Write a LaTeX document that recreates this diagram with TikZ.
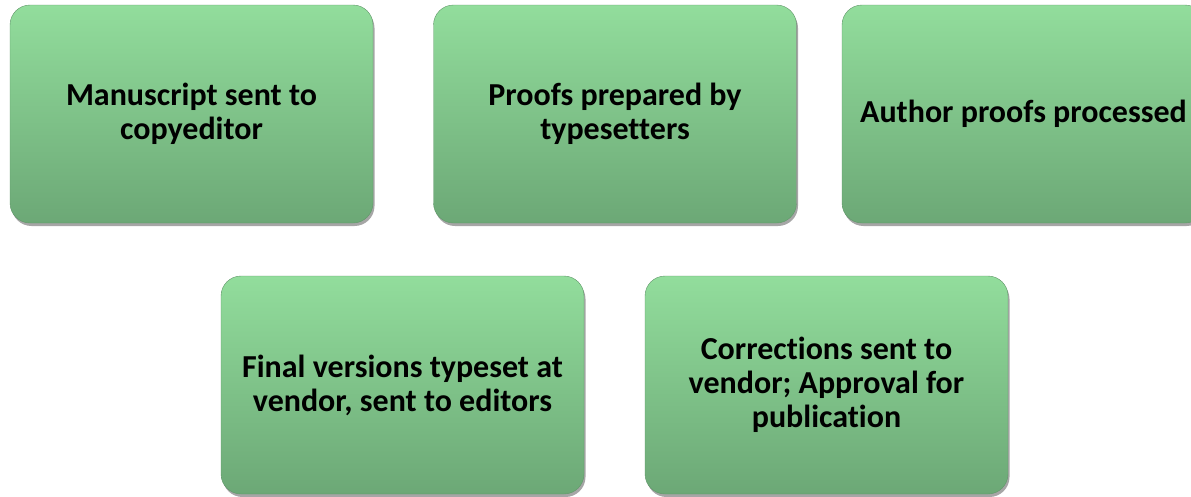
\documentclass[tikz,border=0pt]{standalone}
\usepackage{fontspec}
\setmainfont{Carlito}[Ligatures=NoCommon]
\usepackage{tikz}
\usetikzlibrary{shadows}

\definecolor{stagetop}{RGB}{146,221,156}
\definecolor{stagebottom}{RGB}{108,168,118}

\tikzset{
    stagebox/.style={rounded corners=20pt, minimum width=363pt, minimum height=218pt,
        top color=stagetop, bottom color=stagebottom, draw=stagebottom!90!black, thin,
        drop shadow={shadow xshift=1.5pt, shadow yshift=-3pt, opacity=0.35, fill=black},
        align=center, font=\fontsize{32}{34}\selectfont\bfseries}
}

\begin{document}
\begin{tikzpicture}[x=1pt, y=-1pt]
                    \useasboundingbox (0, 0) rectangle (1191, 496);
                    \clip (0, 0) rectangle (1191, 496);
                        % top row
                        \node[stagebox] (copyedit) at (191.5, 114) {Manuscript sent to\\copyeditor};
                        \node[stagebox] (typeset) at (615, 114) {Proofs prepared by\\typesetters};
                        \node[stagebox] (authorproofs) at (1023.5, 114) {Author proofs processed};
                        % bottom row
                        \node[stagebox] (finalversions) at (402.5, 385) {Final versions typeset at\\vendor, sent to editors};
                        \node[stagebox] (corrections) at (826.5, 385) {Corrections sent to\\vendor; Approval for\\publication};
                \end{tikzpicture}
\end{document}
